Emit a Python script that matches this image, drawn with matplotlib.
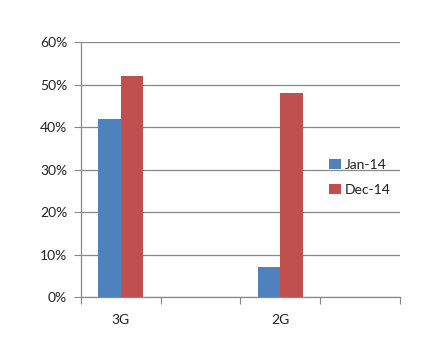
import numpy as np
import matplotlib
matplotlib.use("Agg")
import matplotlib.pyplot as plt
from matplotlib.ticker import PercentFormatter

# chart values
categories = ["3G", "", "2G", ""]
jan14 = [0.42, np.nan, 0.07, np.nan]
dec14 = [0.52, np.nan, 0.48, np.nan]
series_names = ["Jan-14", "Dec-14"]
yticks = [0, 0.1, 0.2, 0.3, 0.4, 0.5, 0.6]

plt.rcParams['font.family'] = ['Lato', 'DejaVu Sans']
blue = "#4F81BD"
red = "#C0504D"
grey = "#888888"

fig = plt.figure(figsize=(4.26, 3.51), dpi=100)
ax = fig.add_axes([0.190, 0.154, 0.749, 0.7255])

x = np.arange(len(categories))
w = 0.28
ax.bar(x - w/2, jan14, w, color=blue, label=series_names[0], zorder=3)
ax.bar(x + w/2, dec14, w, color=red, label=series_names[1], zorder=3)

ax.set_xlim(-0.5, len(categories) - 0.5)
ax.set_ylim(0, 0.6)
ax.set_yticks(yticks)
ax.yaxis.set_major_formatter(PercentFormatter(1.0, decimals=0))

# category boundaries get the tick marks, labels sit in the middle
ax.set_xticks(np.arange(len(categories) + 1) - 0.5)
ax.set_xticklabels([])
ax.set_xticks(x, minor=True)
ax.set_xticklabels(categories, minor=True)
ax.tick_params(axis='x', which='major', length=5, width=0.8, color=grey, direction='out')
ax.tick_params(axis='x', which='minor', length=0, pad=12, labelsize=10, labelcolor='#222222')
ax.tick_params(axis='y', length=5, width=0.8, color=grey, pad=5, labelsize=10, labelcolor='#222222')

ax.grid(axis='y', color=grey, linewidth=0.9, zorder=0)
for s in ['top', 'right']:
    ax.spines[s].set_visible(False)
for s in ['left', 'bottom']:
    ax.spines[s].set_color(grey)
    ax.spines[s].set_linewidth(0.9)

ax.legend(loc='center left', bbox_to_anchor=(0.757, 0.47), frameon=False,
          fontsize=10, handlelength=0.8, handleheight=0.8, handletextpad=0.3,
          labelspacing=0.95, borderpad=0, labelcolor='#222222')

fig.savefig("out.png", dpi=100)
